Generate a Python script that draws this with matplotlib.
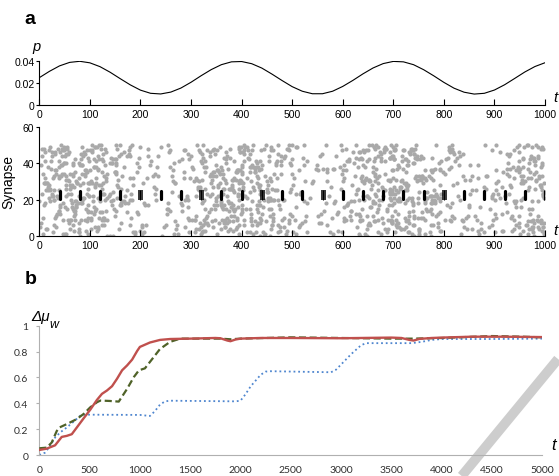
import numpy as np
import matplotlib
matplotlib.use("Agg")
import matplotlib.pyplot as plt
from matplotlib.lines import Line2D

plt.rcParams['font.family'] = ['Liberation Sans', 'DejaVu Sans']

# panel a, top: firing probability p(t), read every 20 time steps
p_t = list(range(0, 1001, 20))
p_val = [0.0250, 0.0308, 0.0358, 0.0390, 0.0400, 0.0386, 0.0351, 0.0300, 0.0241, 0.0184,
         0.0136, 0.0107, 0.0101, 0.0118, 0.0155, 0.0208, 0.0268, 0.0324, 0.0369, 0.0395,
         0.0398, 0.0378, 0.0338, 0.0283, 0.0224, 0.0168, 0.0126, 0.0103, 0.0103, 0.0126,
         0.0170, 0.0225, 0.0285, 0.0339, 0.0379, 0.0399, 0.0395, 0.0369, 0.0323, 0.0267,
         0.0207, 0.0154, 0.0117, 0.0100, 0.0107, 0.0137, 0.0185, 0.0243, 0.0302, 0.0352,
         0.0387]

# panel a, raster: number of grey background spikes per 20-step bin (estimated)
bin_width = 20
spike_counts = [31, 37, 41, 44, 44, 41, 36, 30, 23, 17, 13, 11, 12, 15, 20, 26, 33, 38, 42, 44,
                43, 40, 34, 28, 21, 16, 12, 11, 12, 16, 22, 28, 34, 40, 43, 44, 42, 38, 33, 26,
                20, 15, 12, 11, 13, 17, 23, 30, 36, 43]
pattern_times = list(range(40, 1001, 40))
jittered_times = [200, 320, 440, 560, 800]
pattern_synapses = [20, 21, 22, 23, 24, 25]

# panel b: three learning curves
red_t = [0, 73, 157, 223, 273, 323, 373, 440, 507, 573, 623, 673, 723, 773, 823, 873, 923,
         973, 1000, 1100, 1200, 1300, 1500, 1750, 1800, 1870, 1900, 1950, 2000, 2200, 2500,
         3000, 3500, 3600, 3680, 3720, 3780, 3900, 4000, 4300, 4600, 5000]
red_v = [0.039, 0.049, 0.075, 0.14, 0.148, 0.161, 0.213, 0.283, 0.351, 0.426, 0.473, 0.499,
         0.532, 0.59, 0.655, 0.693, 0.738, 0.805, 0.836, 0.87, 0.89, 0.897, 0.9, 0.905, 0.903,
         0.885, 0.88, 0.893, 0.9, 0.905, 0.905, 0.903, 0.908, 0.905, 0.89, 0.885, 0.898,
         0.905, 0.908, 0.915, 0.915, 0.912]
green_t = [0, 73, 123, 173, 200, 273, 373, 440, 507, 573, 607, 700, 790, 873, 940, 990,
           1050, 1100, 1200, 1300, 1400, 1500, 1800, 1900, 2000, 2500, 3000, 3500, 3700,
           4000, 4500, 4800, 5000]
green_v = [0.052, 0.057, 0.096, 0.185, 0.213, 0.239, 0.278, 0.317, 0.369, 0.408, 0.421,
           0.418, 0.413, 0.512, 0.603, 0.655, 0.67, 0.72, 0.82, 0.875, 0.9, 0.9, 0.9, 0.895,
           0.9, 0.91, 0.905, 0.9, 0.9, 0.905, 0.92, 0.915, 0.91]
blue_t = [0, 57, 107, 157, 207, 273, 340, 407, 457, 1000, 1100, 1150, 1200, 1250, 1300, 1950,
          2000, 2050, 2100, 2200, 2250, 2300, 2900, 2950, 3000, 3100, 3200, 3250, 3700, 3800,
          3900, 4000, 4500, 5000]
blue_v = [0.0, 0.018, 0.07, 0.135, 0.174, 0.213, 0.257, 0.304, 0.312, 0.31, 0.302, 0.34, 0.39,
          0.415, 0.42, 0.415, 0.42, 0.47, 0.53, 0.62, 0.645, 0.648, 0.64, 0.66, 0.7, 0.78, 0.85,
          0.865, 0.865, 0.875, 0.89, 0.897, 0.897, 0.9]

fig = plt.figure(figsize=(5.59, 4.77), dpi=100)

# ---- panel a: p(t)
ax_p = fig.add_axes([0.0703, 0.7778, 0.9047, 0.0916])
ax_p.plot(p_t, p_val, color='black', lw=0.8)
ax_p.set_xlim(0, 1000)
ax_p.set_ylim(0, 0.04)
ax_p.set_yticks([0, 0.02, 0.04])
ax_p.set_yticklabels(['0', '0.02', '0.04'])
ax_p.set_xticks(range(0, 1001, 100))

# ---- panel a: raster
ax_r = fig.add_axes([0.0703, 0.5031, 0.9047, 0.2292])


def scatter_pos(k, salt):
    # deterministic hash in [0, 1) to spread the spikes of a bin
    v = np.sin(k * 12.9898 + salt * 78.233) * 43758.5453
    return v - np.floor(v)


k = 0
dots_t, dots_s = [], []
for i, n in enumerate(spike_counts):
    for j in range(n):
        k += 1
        dots_t.append(i * bin_width + bin_width * scatter_pos(k, 1))
        dots_s.append(round(50.5 * scatter_pos(k, 2)))
ax_r.plot(dots_t, dots_s, 'o', color='#a9a9a9', ms=3.0, mew=0, zorder=1)

solid_times = [t for t in pattern_times if t not in jittered_times]
ax_r.vlines(solid_times, pattern_synapses[0] + 0.4, pattern_synapses[-1] - 0.4,
            color='black', lw=2.3, capstyle='round', zorder=3)
ax_r.vlines(jittered_times, pattern_synapses[0], pattern_synapses[-1],
            color='black', lw=0.8, zorder=3)
for t in jittered_times:
    ax_r.plot([t] * 5, [20.3, 21.4, 22.5, 23.6, 24.7], '_', color='black',
              ms=3.6, mew=1.1, zorder=3)
ax_r.set_xlim(0, 1000)
ax_r.set_ylim(0, 60)
ax_r.set_yticks([0, 20, 40, 60])
ax_r.set_xticks(range(0, 1001, 100))
ax_r.set_ylabel('Synapse', fontsize=10)
ax_r.yaxis.set_label_coords(-0.048, 0.5)

for ax in (ax_p, ax_r):
    for s in ('top', 'right'):
        ax.spines[s].set_visible(False)
    for s in ('left', 'bottom'):
        ax.spines[s].set_linewidth(0.8)
    ax.tick_params(axis='x', direction='in', length=4.5, width=0.8, pad=3, labelsize=7.5)
    ax.tick_params(axis='y', direction='out', length=2.5, width=0.8, pad=1, labelsize=7.5)

# ---- panel b
ax_b = fig.add_axes([0.0703, 0.044, 0.8998, 0.2711])
ax_b.set_facecolor('none')
ax_b.plot(blue_t, blue_v, color='#4f86cf', lw=1.3, ls=(0, (1, 1.6)), zorder=2)
ax_b.plot(green_t, green_v, color='#4f6228', lw=1.6, ls=(0, (3.2, 1.6)), zorder=3)
ax_b.plot(red_t, red_v, color='#c0504d', lw=1.7, zorder=4)
ax_b.set_xlim(0, 5000)
ax_b.set_ylim(0, 1)
ax_b.set_xticks(range(0, 5001, 500))
ax_b.set_yticks([0, 0.2, 0.4, 0.6, 0.8, 1])
ax_b.set_yticklabels(['0', '0.2', '0.4', '0.6', '0.8', '1'])
for s in ('top', 'right'):
    ax_b.spines[s].set_visible(False)
for s in ('left', 'bottom'):
    ax_b.spines[s].set_color('#b0b0b0')
    ax_b.spines[s].set_linewidth(0.8)
ax_b.tick_params(axis='y', length=2, color='#b0b0b0', pad=6, labelsize=7.5, labelcolor='#303030')
ax_b.tick_params(axis='x', length=0, pad=7, labelsize=7.5, labelcolor='#303030')
for lab in ax_b.get_xticklabels() + ax_b.get_yticklabels():
    lab.set_fontfamily(['Lato', 'DejaVu Sans'])

# watermark band
fig.add_artist(Line2D([461.7 / 559, 558 / 559], [0, (477 - 360) / 477],
                      color='#cdcdcd', lw=7, solid_capstyle='butt', zorder=-1))

# labels
fig.text(30 / 559, 1 - 19 / 477, 'a', fontsize=14, fontweight='bold', ha='center', va='center')
fig.text(31 / 559, 1 - 280 / 477, 'b', fontsize=14, fontweight='bold', ha='center', va='center')
fig.text(36 / 559, 1 - 47 / 477, 'p', fontsize=10.5, style='italic', ha='center', va='center')
fig.text(555 / 559, 1 - 98 / 477, 't', fontsize=11, style='italic', ha='center', va='center')
fig.text(555 / 559, 1 - 231 / 477, 't', fontsize=11, style='italic', ha='center', va='center')
fig.text(554 / 559, 1 - 446 / 477, 't', fontsize=12, style='italic', ha='center', va='center')
fig.text(41 / 559, 1 - 317 / 477, 'Δμ', fontsize=11, style='italic', ha='center', va='center')
fig.text(54 / 559, 1 - 325 / 477, 'w', fontsize=9, style='italic', ha='center', va='center')

fig.savefig('out.png', dpi=100)
